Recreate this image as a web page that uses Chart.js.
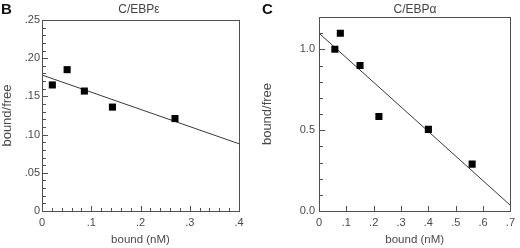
<!DOCTYPE html>
<html>
<head>
<meta charset="utf-8">
<script src="https://cdn.jsdelivr.net/npm/chart.js@4.4.1/dist/chart.umd.min.js"></script>
<style>
  body { margin: 0; background: #fff; }
  #wrap { position: relative; width: 520px; height: 248px; font-family: "Liberation Sans", Arial, sans-serif; color: #444; }
  canvas { position: absolute; top: 0; }
  .letter { position: absolute; top: 0px; font-weight: bold; font-size: 15px; color: #111; }
  .ttl { position: absolute; top: 2px; font-size: 12px; width: 120px; text-align: center; }
</style>
</head>
<body>
<div id="wrap">
  <canvas id="chartB" width="260" height="248" style="left:0"></canvas>
  <canvas id="chartC" width="260" height="248" style="left:260px"></canvas>
  <div class="letter" style="left:1px">B</div>
  <div class="letter" style="left:262px">C</div>
  <div class="ttl" style="left:79px">C/EBPε</div>
  <div class="ttl" style="left:355px">C/EBPα</div>
</div>
<script>
// Panel B: C/EBPepsilon
const bBound = [0.021, 0.051, 0.086, 0.143, 0.270];
const bRatio = [0.165, 0.185, 0.157, 0.136, 0.121];
const bFitX = [0, 0.4];
const bFitY = [0.178, 0.088];
const bXTicks = ['0', '.1', '.2', '.3', '.4'];
const bYTicks = ['0', '.05', '.10', '.15', '.20', '.25'];

// Panel C: C/EBPalpha
const cBound = [0.058, 0.078, 0.150, 0.219, 0.400, 0.560];
const cRatio = [1.00, 1.10, 0.90, 0.585, 0.505, 0.29];
const cFitX = [0, 0.7];
const cFitY = [1.10, 0.035];
const cXTicks = ['0', '.1', '.2', '.3', '.4', '.5', '.6', '.7'];
const cYTicks = ['0.0', '0.5', '1.0'];

const ink = '#3a3a3a';
const frameCol = '#505050';
const textCol = '#4a4a4a';
const fam = '"Liberation Sans", Arial, sans-serif';

// box around the plot area + inward tick marks (left and bottom only)
function frameTicks(t) {
  return {
    id: 'frameTicks',
    afterDraw(chart) {
      const ctx = chart.ctx;
      const a = chart.chartArea;
      const xs = chart.scales.x, ys = chart.scales.y;
      const L = Math.round(a.left), R = Math.round(a.right);
      const T = Math.round(a.top), B = Math.round(a.bottom);
      ctx.fillStyle = frameCol;
      ctx.fillRect(L, T, R - L + 1, 1);
      ctx.fillRect(L, B, R - L + 1, 1);
      ctx.fillRect(L, T, 1, B - T + 1);
      ctx.fillRect(R, T, 1, B - T + 1);
      const nx = Math.round((xs.max - xs.min) / t.xMinor);
      const kx = Math.round(t.xMajor / t.xMinor);
      for (let i = 0; i <= nx; i++) {
        const px = Math.round(xs.getPixelForValue(xs.min + i * t.xMinor));
        const len = i % kx === 0 ? 5 : 3;
        ctx.fillRect(px, B - len, 1, len);
      }
      const ny = Math.round((ys.max - ys.min) / t.yMinor);
      const ky = Math.round(t.yMajor / t.yMinor);
      for (let i = 0; i <= ny; i++) {
        const py = Math.round(ys.getPixelForValue(ys.min + i * t.yMinor));
        const len = i % ky === 0 ? 5 : 3;
        ctx.fillRect(L + 1, py, len, 1);
      }
    }
  };
}

function makePanel(id, cfg) {
  const pts = cfg.xs.map((x, i) => ({ x: x, y: cfg.ys[i] }));
  const fit = cfg.fx.map((x, i) => ({ x: x, y: cfg.fy[i] }));
  return new Chart(document.getElementById(id), {
    type: 'scatter',
    data: {
      datasets: [
        { data: pts, pointStyle: 'rect', pointRadius: 5, pointHoverRadius: 5,
          backgroundColor: '#000', borderColor: '#000', borderWidth: 0 },
        { type: 'line', data: fit, borderColor: ink, borderWidth: 1,
          pointRadius: 0, fill: false, tension: 0 }
      ]
    },
    options: {
      responsive: false,
      animation: false,
      layout: { padding: { left: 0, top: cfg.top, right: cfg.right, bottom: 0 } },
      plugins: {
        legend: { display: false },
        tooltip: { enabled: false }
      },
      scales: {
        x: {
          type: 'linear', min: 0, max: cfg.xMax,
          afterFit: s => { s.height = 248 - cfg.bottomY; },
          grid: { display: false, drawTicks: false },
          border: { display: false },
          ticks: { stepSize: cfg.marks.xMajor, padding: 5, color: textCol,
                   font: { family: fam, size: 11 },
                   maxRotation: 0, autoSkip: false,
                   callback: (v, i) => cfg.xLabels[i] },
          title: { display: true, text: 'bound (nM)', color: textCol,
                   font: { family: fam, size: 11.5 },
                   padding: { top: 0, bottom: 1 } }
        },
        y: {
          type: 'linear', min: 0, max: cfg.yMax,
          afterFit: s => { s.width = cfg.leftX; },
          grid: { display: false, drawTicks: false },
          border: { display: false },
          ticks: { stepSize: cfg.marks.yMajor, padding: cfg.yPad, color: textCol,
                   font: { family: fam, size: 11 },
                   autoSkip: false,
                   callback: (v, i) => cfg.yLabels[i] },
          title: { display: true, text: 'bound/free', color: textCol,
                   font: { family: fam, size: 13 },
                   padding: { top: 0, bottom: 1 } }
        }
      }
    },
    plugins: [frameTicks(cfg.marks)]
  });
}

makePanel('chartB', {
  xs: bBound, ys: bRatio, fx: bFitX, fy: bFitY,
  xMax: 0.4, yMax: 0.25, yPad: 2,
  xLabels: bXTicks, yLabels: bYTicks,
  leftX: 42, top: 20, right: 21, bottomY: 211,
  marks: { xMinor: 0.02, xMajor: 0.1, yMinor: 0.01, yMajor: 0.05 }
});

makePanel('chartC', {
  xs: cBound, ys: cRatio, fx: cFitX, fy: cFitY,
  xMax: 0.7, yMax: 1.2, yPad: 4,
  xLabels: cXTicks, yLabels: cYTicks,
  leftX: 59, top: 17, right: 7, bottomY: 211,
  marks: { xMinor: 0.1, xMajor: 0.1, yMinor: 0.1, yMajor: 0.5 }
});
</script>
</body>
</html>
